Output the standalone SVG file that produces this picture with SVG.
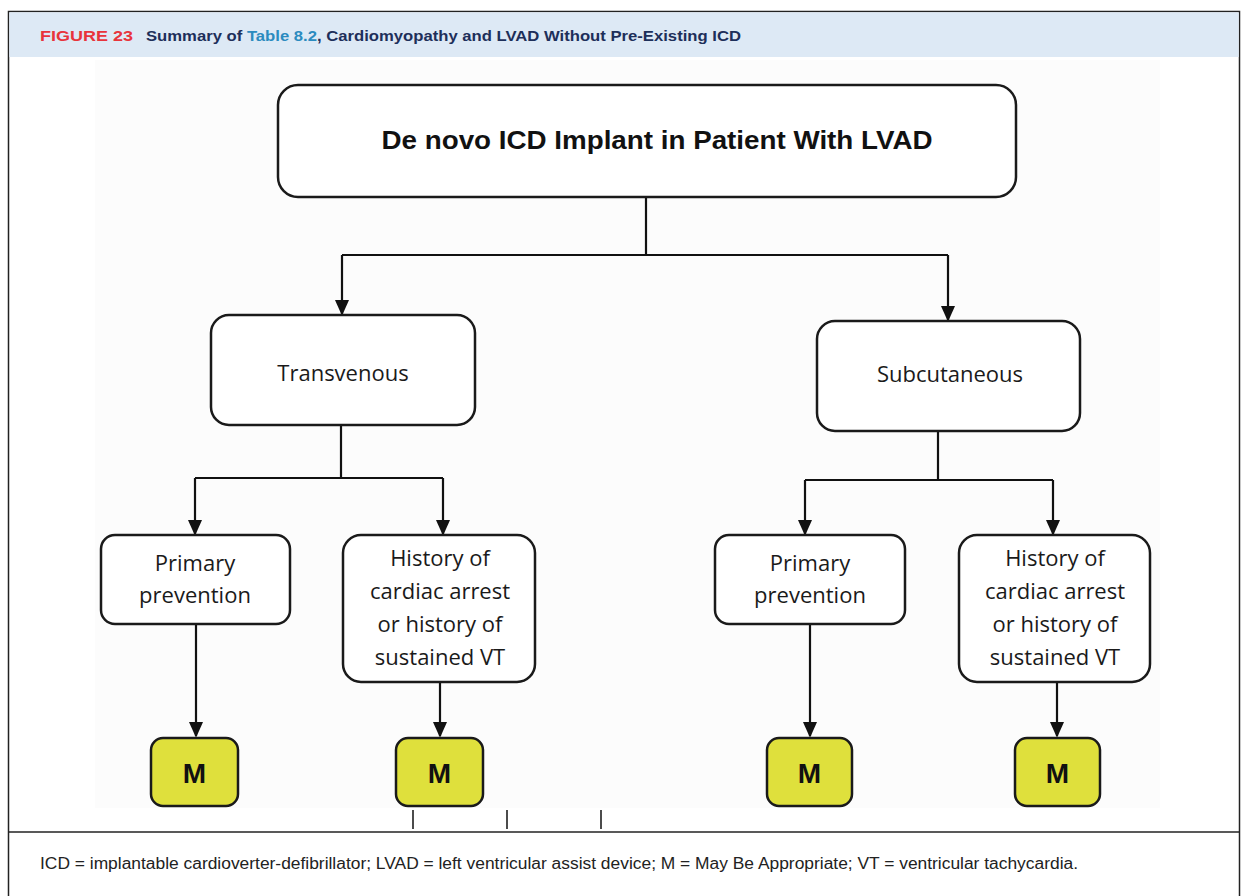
<svg xmlns="http://www.w3.org/2000/svg" width="1245" height="896" viewBox="0 0 1245 896">
<style>
.box{fill:#fff;stroke:#1a1a1a;stroke-width:2.5}
.mbox{fill:#dfe03c;stroke:#1a1a1a;stroke-width:2.5}
.conn{fill:none;stroke:#111;stroke-width:2.2}
.lbl{font-family:"Open Sans","Liberation Sans",sans-serif;font-size:22px;fill:#1a1a1a;text-anchor:middle}
.mlbl{font-family:"Liberation Sans",Arial,sans-serif;font-size:28px;font-weight:bold;fill:#111;text-anchor:middle}
.hdr{font-family:"Liberation Sans",Arial,sans-serif;font-size:15.5px;font-weight:bold}
.foot{font-family:"Liberation Sans",Arial,sans-serif;font-size:16px;fill:#222}
</style>
<defs>
<marker id="ad" markerUnits="userSpaceOnUse" markerWidth="16" markerHeight="18" refX="16" refY="8" orient="auto" viewBox="0 0 18 16">
<path d="M0,0 L18,8 L0,16 Z" fill="#111"/>
</marker>
</defs>
<rect x="0" y="0" width="1245" height="896" fill="#fff"/>
<rect x="95" y="60" width="1065" height="748" fill="#fcfcfc"/>
<!-- frame -->
<rect x="8.5" y="11.5" width="1231" height="890" fill="none" stroke="#222" stroke-width="1.5"/>
<rect x="9.3" y="12.3" width="1229.4" height="44.7" fill="#dde9f5"/>
<line x1="8.5" y1="832" x2="1239.5" y2="832" stroke="#222" stroke-width="1.5"/>
<text x="40" y="41" class="hdr" fill="#e8343c" textLength="93" lengthAdjust="spacingAndGlyphs">FIGURE 23</text>
<text x="146" y="41" class="hdr" textLength="595" lengthAdjust="spacingAndGlyphs"><tspan fill="#1d2f5a">Summary of </tspan><tspan fill="#2b8bbf">Table 8.2</tspan><tspan fill="#1d2f5a">, Cardiomyopathy and LVAD Without Pre-Existing ICD</tspan></text>

<g id="connectors">
<path class="conn" d="M646,197 V255 M342,255 H948"/>
<line class="conn" x1="342" y1="255" x2="342" y2="314" marker-end="url(#ad)"/>
<line class="conn" x1="948" y1="255" x2="948" y2="320" marker-end="url(#ad)"/>
<path class="conn" d="M341,425 V478 M195,478 H443"/>
<line class="conn" x1="195" y1="478" x2="195" y2="534" marker-end="url(#ad)"/>
<line class="conn" x1="443" y1="478" x2="443" y2="534" marker-end="url(#ad)"/>
<path class="conn" d="M938,431 V480 M805,480 H1053"/>
<line class="conn" x1="805" y1="480" x2="805" y2="534" marker-end="url(#ad)"/>
<line class="conn" x1="1053" y1="480" x2="1053" y2="534" marker-end="url(#ad)"/>
<line class="conn" x1="196" y1="624" x2="196" y2="736" marker-end="url(#ad)"/>
<line class="conn" x1="440" y1="682" x2="440" y2="736" marker-end="url(#ad)"/>
<line class="conn" x1="810" y1="624" x2="810" y2="736" marker-end="url(#ad)"/>
<line class="conn" x1="1057" y1="682" x2="1057" y2="736" marker-end="url(#ad)"/>
</g>

<g id="n-root">
<rect class="box" x="278" y="85" width="738" height="112" rx="20"/>
<text x="657" y="149" text-anchor="middle" font-family="Liberation Sans,Arial,sans-serif" font-size="26" font-weight="bold" fill="#111" textLength="551" lengthAdjust="spacingAndGlyphs">De novo ICD Implant in Patient With LVAD</text>
</g>
<g id="n-transvenous">
<rect class="box" x="211" y="315" width="264" height="110" rx="18"/>
<text class="lbl" x="343" y="381">Transvenous</text>
</g>
<g id="n-subcutaneous">
<rect class="box" x="817" y="321" width="263" height="110" rx="18"/>
<text class="lbl" x="950" y="382">Subcutaneous</text>
</g>
<g id="n-primary-l">
<rect class="box" x="101" y="535" width="189" height="89" rx="14"/>
<text class="lbl" x="195" y="571">Primary</text>
<text class="lbl" x="195" y="603">prevention</text>
</g>
<g id="n-history-l">
<rect class="box" x="343" y="535" width="192" height="147" rx="18"/>
<text class="lbl" x="440" y="566">History of</text>
<text class="lbl" x="440" y="599">cardiac arrest</text>
<text class="lbl" x="440" y="632">or history of</text>
<text class="lbl" x="440" y="665">sustained VT</text>
</g>
<g id="n-primary-r">
<rect class="box" x="715" y="535" width="190" height="89" rx="14"/>
<text class="lbl" x="810" y="571">Primary</text>
<text class="lbl" x="810" y="603">prevention</text>
</g>
<g id="n-history-r">
<rect class="box" x="959" y="535" width="191" height="147" rx="18"/>
<text class="lbl" x="1055" y="566">History of</text>
<text class="lbl" x="1055" y="599">cardiac arrest</text>
<text class="lbl" x="1055" y="632">or history of</text>
<text class="lbl" x="1055" y="665">sustained VT</text>
</g>
<g id="n-m1">
<rect class="mbox" x="151" y="738" width="87" height="68" rx="12"/>
<text class="mlbl" x="194.5" y="783">M</text>
</g>
<g id="n-m2">
<rect class="mbox" x="396" y="738" width="87" height="68" rx="12"/>
<text class="mlbl" x="439.5" y="783">M</text>
</g>
<g id="n-m3">
<rect class="mbox" x="767" y="738" width="85" height="68" rx="12"/>
<text class="mlbl" x="809.5" y="783">M</text>
</g>
<g id="n-m4">
<rect class="mbox" x="1015" y="738" width="85" height="68" rx="12"/>
<text class="mlbl" x="1057.5" y="783">M</text>
</g>
<rect x="95" y="808" width="1070" height="22" fill="#fff"/>
<g stroke="#111" stroke-width="1.5">
<line x1="413" y1="810" x2="413" y2="829"/>
<line x1="507" y1="810" x2="507" y2="829"/>
<line x1="601" y1="810" x2="601" y2="829"/>
</g>
<text class="foot" x="40" y="869" textLength="1038" lengthAdjust="spacingAndGlyphs">ICD = implantable cardioverter-defibrillator; LVAD = left ventricular assist device; M = May Be Appropriate; VT = ventricular tachycardia.</text>
</svg>
